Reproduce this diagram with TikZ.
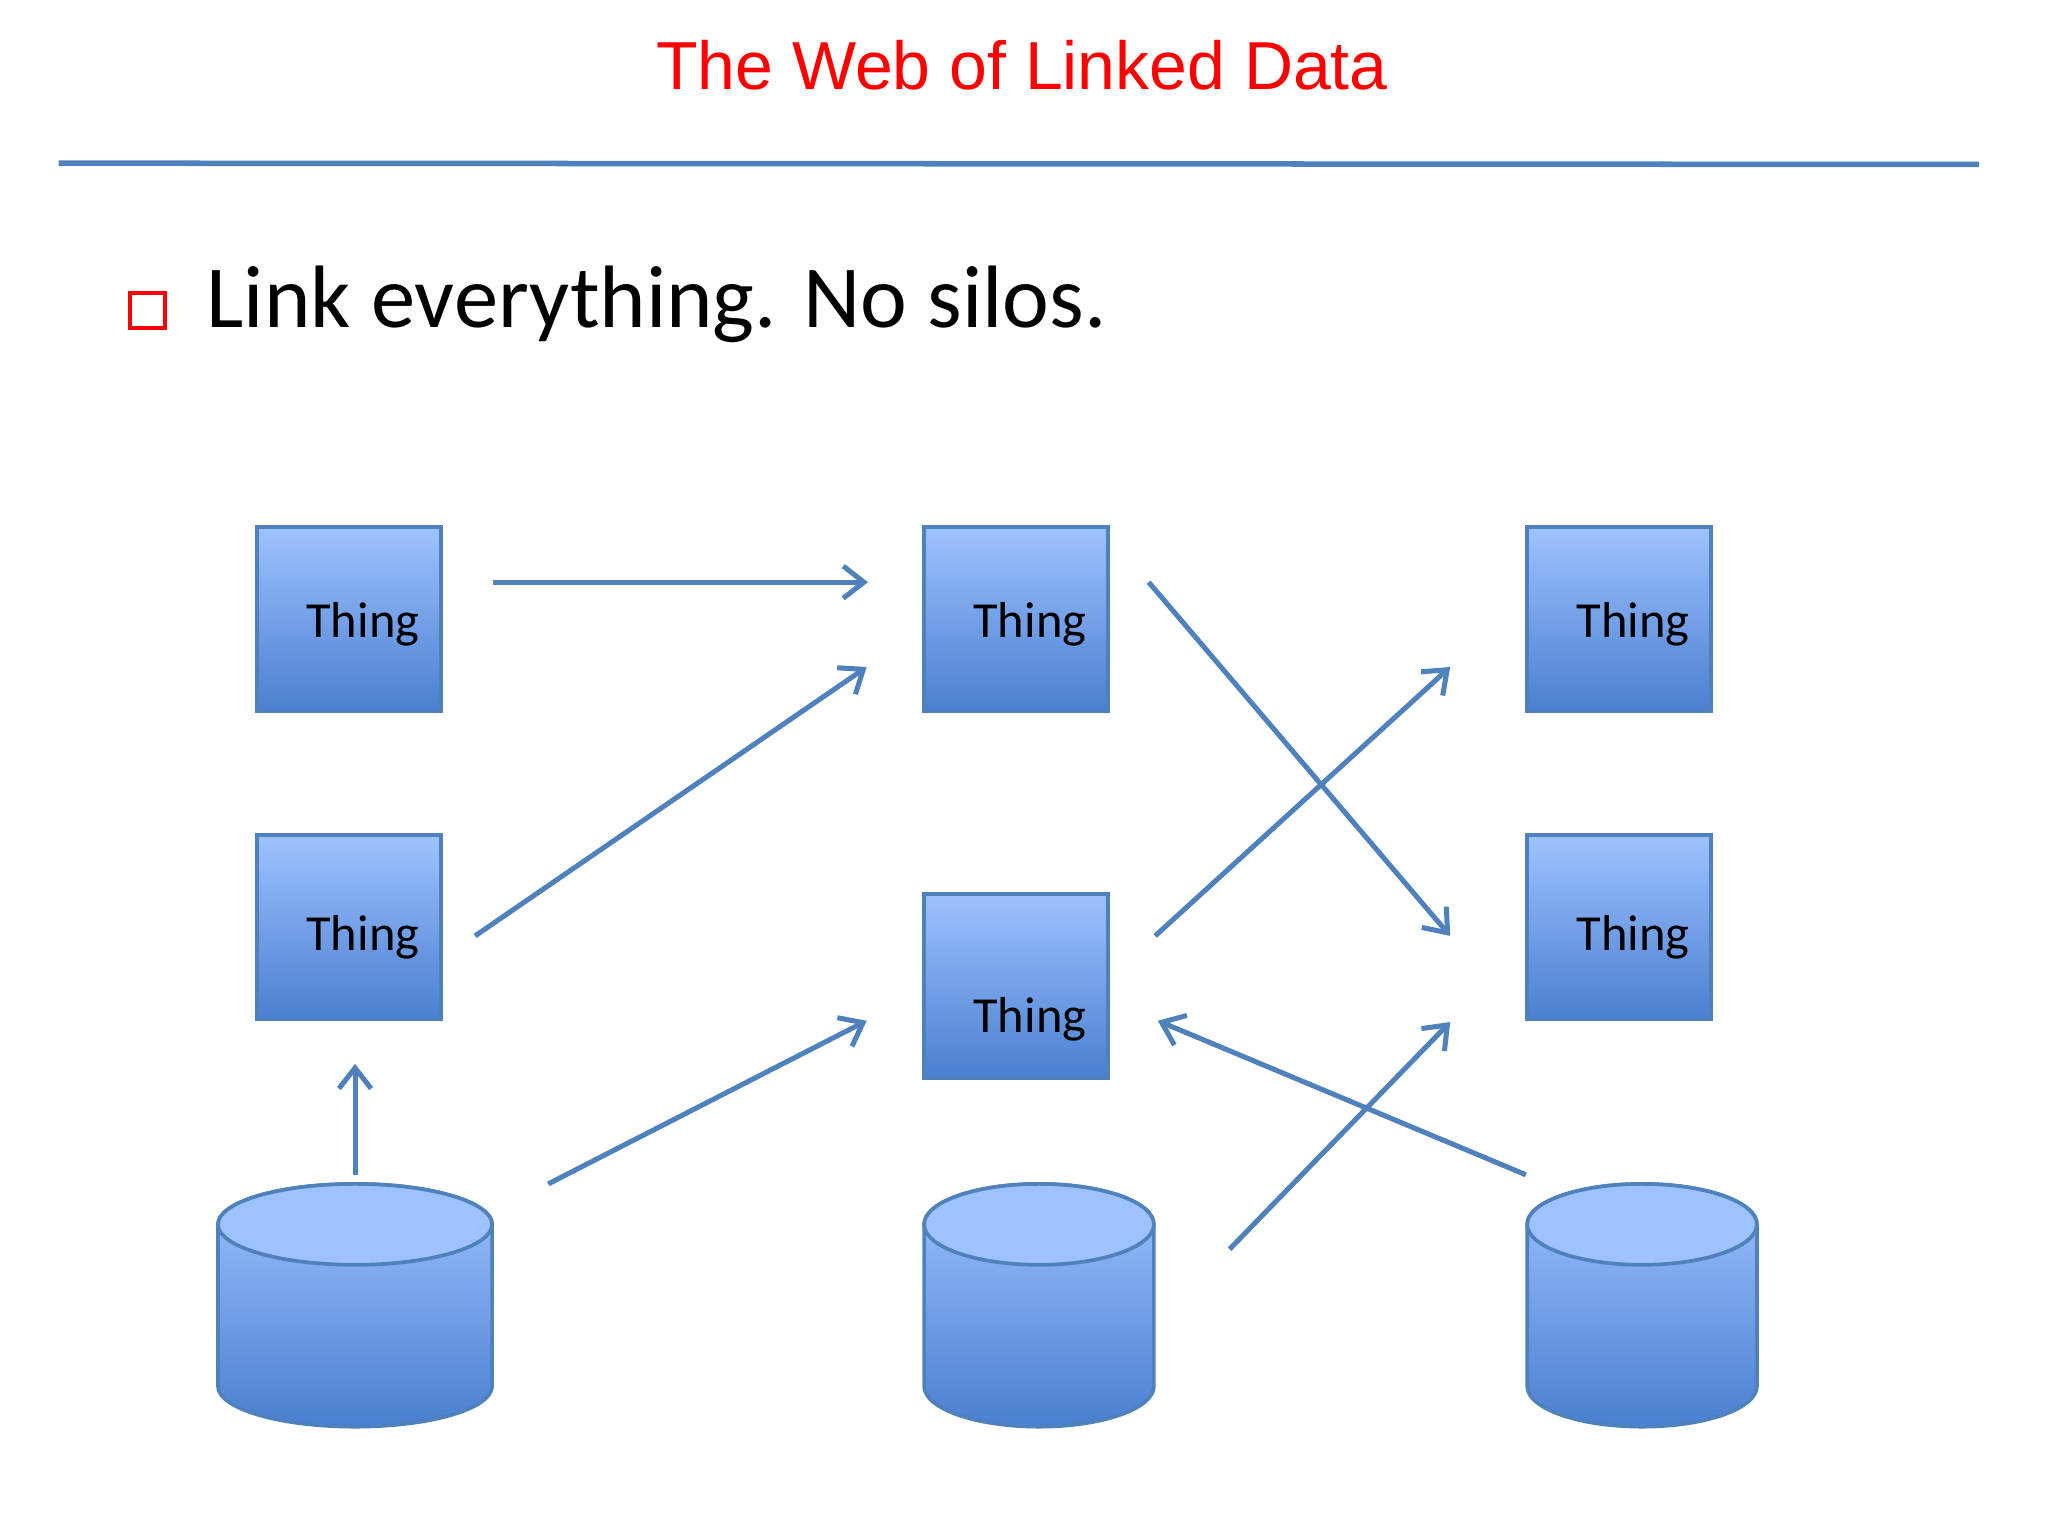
\documentclass[tikz,border=0pt]{standalone}
\usepackage{fontspec}
\setmainfont{Carlito}
\newfontfamily\titlefont{Liberation Sans}
\usetikzlibrary{arrows.meta}
\definecolor{lblue}{HTML}{4F81BD}
\definecolor{ctop}{HTML}{9EC2FF}
\definecolor{cbot}{HTML}{4A7FD0}
\begin{document}
\begin{tikzpicture}[x=0.01cm,y=-0.01cm,
  thingbox/.style={draw=lblue,line width=0.8pt,top color=ctop,bottom color=cbot,minimum width=1.41cm,minimum height=1.41cm,inner sep=0pt},
  thinglabel/.style={font=\fontsize{11pt}{13pt}\selectfont},
  link/.style={draw=lblue,line width=1.1pt,-{Straight Barb[length=4.5pt,width=7pt]}}]
\useasboundingbox (0,0) rectangle (1569,1176);
\node[font=\titlefont\fontsize{14.8pt}{17pt}\selectfont,text=red] (title) at (783,50) {The Web of Linked Data};
\coordinate (l1) at (45,125); \coordinate (l2) at (1516,126);
\draw[lblue,line width=1.2pt] (l1) -- (l2);
\node[draw=red,line width=0.8pt,minimum size=0.27cm,inner sep=0pt] (bul) at (113,238) {};
\node[anchor=west,font=\fontsize{19.3pt}{23pt}\selectfont] (txt) at (146,233) {Link everything. No silos.};
% boxes
\node[thingbox] (a) at (267.5,474.5) {};
\node[thinglabel] at (278,478) {Thing};
\node[thingbox] (b) at (267.5,710.5) {};
\node[thinglabel] at (278,718) {Thing};
\node[thingbox] (c) at (778.5,474.5) {};
\node[thinglabel] at (789,478) {Thing};
\node[thingbox] (d) at (778.5,755.5) {};
\node[thinglabel] at (789,781) {Thing};
\node[thingbox] (e) at (1240.5,474.5) {};
\node[thinglabel] at (1251,478) {Thing};
\node[thingbox] (f) at (1240.5,710.5) {};
\node[thinglabel] at (1251,718) {Thing};
% cylinders
\foreach \cx/\rx/\nm in {272/105/cyl1,796/88/cyl2,1258/88/cyl3}{
  \coordinate (\nm) at (\cx,1000);
  \path[top color=ctop,bottom color=cbot,draw=lblue,line width=0.8pt]
    (\cx-\rx,938) -- (\cx-\rx,1062) arc[start angle=180,end angle=360,x radius=\rx,y radius=-31] -- (\cx+\rx,938) arc[start angle=0,end angle=180,x radius=\rx,y radius=-31] -- cycle;
  \path[fill=ctop,draw=lblue,line width=0.8pt] (\cx,938) ellipse[x radius=\rx,y radius=31];
}
% arrows
\coordinate (p1) at (378,446); \coordinate (q1) at (665,446);
\coordinate (p2) at (364,717); \coordinate (q2) at (664,511);
\coordinate (p3) at (420,907); \coordinate (q3) at (664,782);
\coordinate (p4) at (272,900); \coordinate (q4) at (272,815);
\coordinate (p5) at (880,446); \coordinate (q5) at (1111,717);
\coordinate (p6) at (885,717); \coordinate (q6) at (1111,511);
\coordinate (p7) at (1169,900); \coordinate (q7) at (887,782);
\coordinate (p8) at (942,957); \coordinate (q8) at (1111,783);
\foreach \i in {1,...,8}{\draw[link] (p\i) -- (q\i);}
\end{tikzpicture}
\end{document}
